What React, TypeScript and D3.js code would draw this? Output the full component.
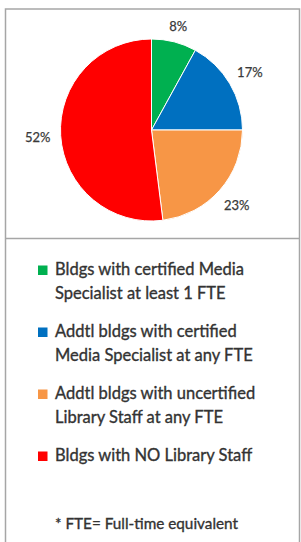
import React, { useEffect, useRef } from 'react';
import * as d3 from 'd3';

const categories = [
  'Bldgs with certified Media Specialist at least 1 FTE',
  'Addtl bldgs with certified Media Specialist at any FTE',
  'Addtl bldgs with uncertified Library Staff at any FTE',
  'Bldgs with NO Library Staff',
];
const legendLines = [
  ['Bldgs with certified Media', 'Specialist at least 1 FTE'],
  ['Addtl bldgs with certified', 'Media Specialist at any FTE'],
  ['Addtl bldgs with uncertified', 'Library Staff at any FTE'],
  ['Bldgs with NO Library Staff'],
];
const values = [8, 17, 23, 52];
const colors = ['#00b050', '#0070c0', '#f79646', '#ff0000'];
const footnote = '* FTE= Full-time equivalent';

export default function App() {
  const svgRef = useRef<SVGSVGElement>(null);

  useEffect(() => {
    const width = 301;
    const height = 542;
    const svg = d3.select(svgRef.current).attr('width', width).attr('height', height);
    svg.selectAll('*').remove();

    // frame
    const frame = svg.append('g').attr('stroke', '#a6a6a6').attr('stroke-width', 1.5).attr('fill', 'none');
    frame.append('path').attr('d', `M5.5,${height} V9 H299.5 V${height}`);
    frame.append('line').attr('x1', 5.5).attr('x2', 299.5).attr('y1', 238.5).attr('y2', 238.5);

    // pie
    const cx = 151.5;
    const cy = 130;
    const r = 91;
    const pie = d3.pie<number>().sort(null).value(d => d);
    const arcs = pie(values);
    const arc = d3.arc<d3.PieArcDatum<number>>().innerRadius(0).outerRadius(r);
    const g = svg.append('g').attr('transform', `translate(${cx},${cy})`);
    g.selectAll('path.slice')
      .data(arcs)
      .join('path')
      .attr('class', 'slice')
      .attr('d', arc)
      .attr('fill', (d, i) => colors[i])
      .attr('stroke', '#fff')
      .attr('stroke-width', 1);

    // labels outside, box pushed off the circle
    const gap = 10;
    const labels = g.selectAll('text.lbl')
      .data(arcs)
      .join('text')
      .attr('class', 'lbl')
      .attr('text-anchor', 'middle')
      .attr('dominant-baseline', 'central')
      .attr('font-family', 'Lato, "Open Sans", sans-serif')
      .attr('font-size', 13)
      .attr('fill', '#3a3a3a')
      .attr('stroke', '#3a3a3a')
      .attr('stroke-width', 0.25)
      .text(d => `${d.data}%`);
    labels.each(function (d) {
      const el = this as SVGTextElement;
      const w = el.getComputedTextLength();
      const h = 9;
      const a = (d.startAngle + d.endAngle) / 2;
      const s = Math.sin(a);
      const c = Math.cos(a);
      const dist = r + gap + Math.abs(c) * h / 2 + Math.abs(s) * w / 2;
      d3.select(el).attr('x', s * dist).attr('y', -c * dist);
    });

    // legend
    const legend = svg.append('g')
      .attr('font-family', 'Lato, "Open Sans", sans-serif')
      .attr('fill', '#333')
      .attr('stroke', '#333')
      .attr('stroke-width', 0.35);
    const lineH = 23.5;
    const itemH = 62;
    const top = 275;
    categories.forEach((cat, i) => {
      const y0 = top + i * itemH;
      legend.append('rect')
        .attr('x', 38)
        .attr('y', y0 - 9.5)
        .attr('width', 9.5)
        .attr('height', 9.5)
        .attr('stroke', 'none')
        .attr('fill', colors[i]);
      const t = legend.append('text').attr('font-size', 16.5);
      legendLines[i].forEach((ln, j) => {
        t.append('tspan').attr('x', 55).attr('y', y0 + j * lineH).text(ln);
      });
    });
    legend.append('text')
      .attr('x', 55)
      .attr('y', 529)
      .attr('font-size', 15.3)
      .text(footnote);
  }, []);

  return (
    <div style={{ position: 'absolute', left: 0, top: 0 }}>
      <svg ref={svgRef} style={{ display: 'block' }}></svg>
    </div>
  );
}
